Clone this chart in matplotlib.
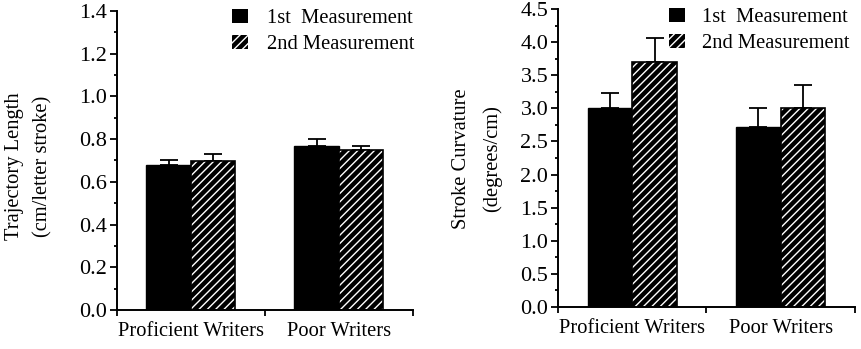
import matplotlib
matplotlib.use("Agg")
import matplotlib.pyplot as plt
from matplotlib.patches import Patch
from matplotlib.ticker import MultipleLocator, FixedLocator, NullFormatter
import numpy as np

plt.rcParams['font.family'] = ['Liberation Serif', 'DejaVu Serif']
plt.rcParams['hatch.linewidth'] = 1.0

groups = ["Proficient Writers", "Poor Writers"]
series = ["1st  Measurement", "2nd Measurement"]

# Trajectory length (cm/letter stroke)
traj_first = [0.68, 0.77]
traj_first_err = [0.02, 0.03]
traj_second = [0.70, 0.75]
traj_second_err = [0.03, 0.02]

# Stroke curvature (degrees/cm)
curv_first = [3.00, 2.72]
curv_first_err = [0.23, 0.29]
curv_second = [3.70, 3.01]
curv_second_err = [0.37, 0.34]

FS = 14.8
TFS = 16
W, H = 862, 349
fig = plt.figure(figsize=(W / 100, H / 100), dpi=100)


def px_axes(x0, x1, ytop, ybot):
    return fig.add_axes([x0 / W, 1 - ybot / H, (x1 - x0) / W, (ybot - ytop) / H])


def draw_panel(ax, first, first_err, second, second_err, ymax, major, minor):
    x = np.arange(len(groups))
    bw = 0.30
    ax.bar(x - bw / 2, first, bw, color='black', edgecolor='black', linewidth=1, zorder=2)
    ax.bar(x + bw / 2, second, bw, facecolor='black', edgecolor='white',
           hatch='////', linewidth=0, zorder=2)
    ax.bar(x + bw / 2, second, bw, fill=False, edgecolor='black', linewidth=1.2, zorder=3)
    zeros = np.zeros(len(groups))
    ax.errorbar(x - bw / 2, first, yerr=[zeros, first_err], fmt='none', ecolor='black',
                elinewidth=1.3, capsize=6.2, capthick=1.3, zorder=1)
    ax.errorbar(x + bw / 2, second, yerr=[zeros, second_err], fmt='none', ecolor='black',
                elinewidth=1.3, capsize=6.2, capthick=1.3, zorder=1)

    ax.set_xlim(-0.5, 1.5)
    ax.set_ylim(0, ymax)
    ax.yaxis.set_major_locator(MultipleLocator(major))
    ax.yaxis.set_minor_locator(MultipleLocator(minor))
    ax.yaxis.set_major_formatter(matplotlib.ticker.FormatStrFormatter('%.1f'))
    ax.xaxis.set_major_locator(FixedLocator([-0.5, 0.5, 1.5]))
    ax.xaxis.set_major_formatter(NullFormatter())
    ax.xaxis.set_minor_locator(FixedLocator(x))
    ax.set_xticklabels(groups, minor=True, fontsize=FS)
    ax.tick_params(axis='x', which='minor', length=0, pad=9)
    ax.tick_params(axis='x', which='major', length=4, width=1.3, direction='out')
    ax.tick_params(axis='y', which='major', length=5, width=1.3, labelsize=TFS, pad=2)
    ax.tick_params(axis='y', which='minor', length=2.5, width=1.3)
    for s in ('top', 'right'):
        ax.spines[s].set_visible(False)
    for s in ('left', 'bottom'):
        ax.spines[s].set_linewidth(1.4)

    handles = [Patch(facecolor='black', edgecolor='black', linewidth=0),
               Patch(facecolor='black', edgecolor='white', hatch='////', linewidth=0)]
    return handles


ax1 = px_axes(116.7, 413, 11, 310)
h = draw_panel(ax1, traj_first, traj_first_err, traj_second, traj_second_err, 1.4, 0.2, 0.1)
fig.legend(h, series, loc='upper left', bbox_to_anchor=(232 / W, 1 - 9 / H),
           frameon=False, fontsize=FS, handlelength=0.78, handleheight=0.7,
           handletextpad=0.9, labelspacing=0.32, borderpad=0, borderaxespad=0)
fig.text(15 / W, 1 - 166 / H, "Trajectory Length", rotation=90, ha='center', va='center', fontsize=FS)
fig.text(43 / W, 1 - 166 / H, "(cm/letter stroke)", rotation=90, ha='center', va='center', fontsize=FS)

ax2 = px_axes(558, 855, 9.3, 306.7)
h = draw_panel(ax2, curv_first, curv_first_err, curv_second, curv_second_err, 4.5, 0.5, 0.25)
fig.legend(h, series, loc='upper left', bbox_to_anchor=(669 / W, 1 - 8 / H),
           frameon=False, fontsize=FS, handlelength=0.8, handleheight=0.7,
           handletextpad=0.8, labelspacing=0.32, borderpad=0, borderaxespad=0)
fig.text(462 / W, 1 - 159 / H, "Stroke Curvature", rotation=90, ha='center', va='center', fontsize=FS)
fig.text(492 / W, 1 - 159 / H, "(degrees/cm)", rotation=90, ha='center', va='center', fontsize=FS)

fig.savefig("out.png", dpi=100)
